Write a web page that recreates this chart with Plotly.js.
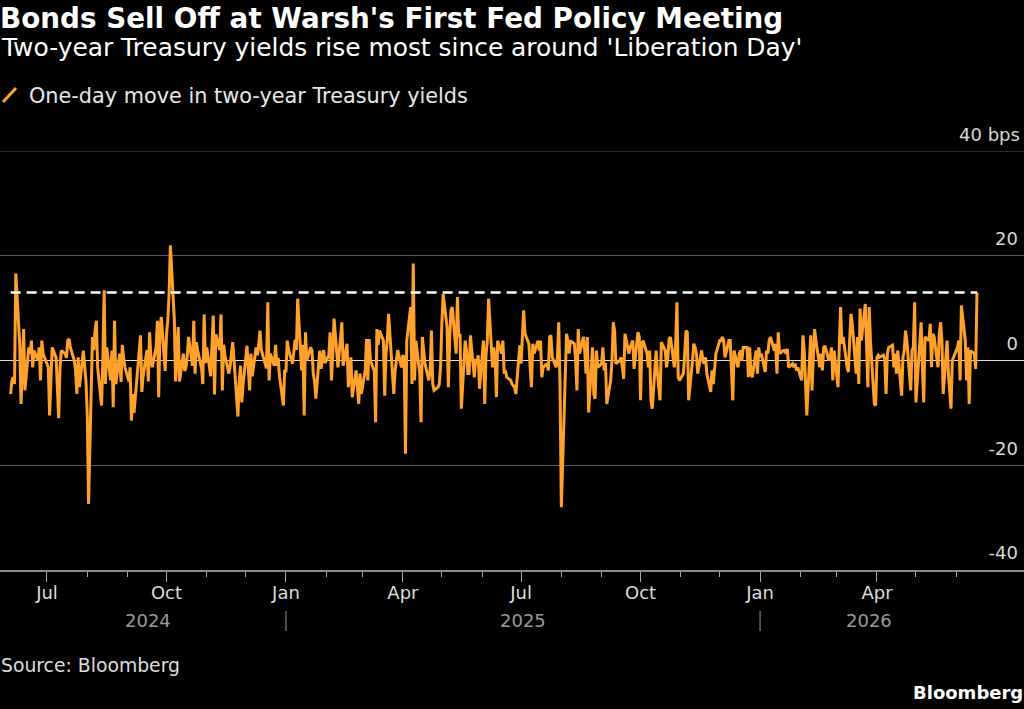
<!DOCTYPE html>
<html>
<head>
<meta charset="utf-8">
<script src="https://cdn.plot.ly/plotly-3.0.1.min.js"></script>
<style>
  html, body { margin: 0; padding: 0; background: #000; }
  #chart { width: 1024px; height: 709px; }
</style>
</head>
<body>
<div id="chart"></div>
<script>
// One-day moves in the two-year Treasury yield, basis points, one value per weekday of each month
const jun2024 = [-6.4, -3.8, -3.2, -4.5, 16.6, 3, -8.3, 0, 6, -5.7, 2.5, 1.3, 3.8, -1.3, 1.9, 0, 2.5, -3.8, 3.8, 1.3];
const jul2024 = [-0.5, -1.3, -10.5, -3, 2.5, 0.5, -4, -11, -1.5, 1.9, 1.3, 0.5, 3.8, 4.1, 2.5, 0, -2, -6.4, 0.6, -5.1, 1.9, -0.5, -4];
const aug2024 = [-10.2, -27.4, 4.5, 2, 5.7, 7.6, -1.3, -8.6, 0, 13.4, -4.5, 2.5, -3.8, 1.9, -8.9, 7.6, -4.5, 1.3, -4.1, 3, 0.6, -1.3];
const sep2024 = [-4, -1.3, -11.5, -6.4, -10, 0, 3, 4.8, -6, -3, 2, -4, 5.4, 0.6, -1.3, 2.5, 7.6, -7, 6.1, 8.3, -2];
const oct2024 = [5, 7.6, 12.7, 22, 8, -4, 1.3, 6.4, -4, 1.3, -2, -1.3, 1, 4.5, -1, 7.6, -2.5, 3.5, 1.9, -1.5, -4.5, 8.8, -0.5];
const nov2024 = [2.5, -3, 3, 8.6, -6.5, 5, 2, 8.8, -5.7, 3, 1, -2.5, -1, 2, 3.5, 0, -10.7, -4, -1, -8, -4.5];
const dec2024 = [2.8, -2, -5.7, 1.3, -3, 2.5, 1, 3, 5.7, 2, -1, -1.5, 11.1, -3.8, 1.3, -1, 3, -1, 0.5, -3, -8.6, -2];
const jan2025 = [-2, 3.8, 2, -0.6, 1.5, 4, 2, 11.8, -1.9, 3, -10.5, 5.4, 0, 2.5, 1.9, -2.5, -4, -7.3, 1.9, -1.6, 0.5, 2, -0.5];
const feb2025 = [1, 5.4, -3.8, 1, 8, -1.3, 2, 4, 7.3, -1, 3.2, -5.1, -2, 0.6, -7, -1.9, -5.1, -8.3, -2.5, -6.4];
const mar2025 = [-1.9, 4.1, -3.8, 4.1, 0, -2, -11.8, 6, 3, 5.7, 3.8, -6.7, 1.3, 4, 8.9, -2.2, -6.4, -2, 0, 2, -1.3];
const apr2025 = [1, 0.5, -17.8, 3.8, 10.2, -4.5, 18.5, -3.8, 3.8, -2.5, -11.8, 4.5, 2.5, -0.6, -3.8, -1.9, 5.7, -4.5, -5.7, -5.1, -4.5, -1.3];
const may2025 = [7, 12.7, 6.4, -5.1, 3.8, 9.6, 10.2, 1.3, 12.1, 4.5, 5.1, -9.2, 3.8, 1.9, -2.5, -2.5, 4.8, -3.2, 0.3, -0.6, 1, -5.4];
const jun2025 = [3.8, -8.3, 1, 3.8, 11.8, -1.3, 2.5, 0.6, -7, 3.8, 1.3, 3.8, -2.5, -1.9, -3.2, -3.8, -4.5, -4.8, -5.1, -6.4, 2.9];
const jul2025 = [-0.6, 5.7, 9.6, 5.1, 3.2, -1.3, -5.1, 3.2, 1.3, 3.8, 1.9, 3.8, -3.2, -1.3, -0.6, -1.9, 4.5, 4.8, 0.6, -1.3, 0.6, 7.3, -5.1];
const aug2025 = [-28, -1.3, 5.1, 3.8, 1.3, 3.8, 3.2, 0, -5.7, 6, 1.3, 4.5, 1.9, -2.5, 4.5, -9.9, 2.5, -6.4, -7.3, 1.9, -1.3];
const sep2025 = [-0.6, 2.5, -1.9, -0.5, -8.3, -3.8, 0, 7.3, 5.7, -0.6, 0, 0.6, -1.3, -3.5, 5.1, 1.3, 2.5, 3.2, 3.8, -1.6, 5.4, 4.5];
const oct2025 = [-7.6, 3.2, 3.8, 1.3, -1.3, 1.9, -7.6, -9.2, 1.9, -2.5, -4.5, -7.6, 3.5, 1.9, -1.3, 0.6, 4.1, 4.5, -1.3, 3.2, 11.1, -3.2, -3.8];
const nov2025 = [-2.5, 1.3, 5.7, 5.4, -7.6, 0, 3.2, 2.5, 1.3, -2.5, 1.9, 0, -0.6, 0.6, -2.5, -6, -1.9, -4.5, -1.3, 1.3];
const dec2025 = [3.8, 3.8, 4.5, 3.8, 0.6, 3.8, 3.8, -1.3, -7.6, 1.9, -1.3, 1.3, 1.9, 0, 2.5, 2.5, -3.2, 2.5, -2.5, -3.2, 1.9, -2.5, 2.5];
const jan2026 = [0.6, 1.3, -2.2, 1.9, 1.3, 3.8, 4.5, 1.9, 3.2, -2.5, 5.4, 1.3, 1.9, 1.9, 1.3, 2.2, -1.3, -0.6, -1.3, -0.6, -1.9, -1.3];
const feb2026 = [-3.8, 4.8, 1.9, -3.8, -10.5, 4.8, -5.7, 0.6, 6, 3.8, -1.3, 1.3, -1.9, 2.5, 2.8, 0, 0.6, 2.5, -3.8, 1.9];
const mar2026 = [-5.1, 2.8, 10.2, 3.2, 4.5, -1.3, -2.2, 3.8, 8.9, 7, -2.5, 4.5, -4.5, 9.9, 3.8, 10.8, 2.5, -5.1, 10.2, 3.8, -8.3, -8.6];
const apr2026 = [0.6, 1, 0.6, 1, 0.3, -6.4, 1.3, 2.5, 2.9, -1.3, 1.3, -2.5, 1.9, -6.7, 0.6, 1.9, 5.7, 3.8, -5.7, 1.9, 2.5, 11.1];
const may2026 = [-8, 3.2, 7.3, -1.3, -8, 4.5, 3.8, 7, -1.3, 5.1, 4.5, -1.3, 5.1, 7.3, 3.8, -6.4, 3.8, -2.5, -5.1, -9.2, 0];
const jun2026 = [1.9, 2.5, 3.8, -3.8, 10.5, 3.8, -3.8, 2.5, -8.3, 1.9, 1.3, -1.6, 13];

// Month each block of values belongs to
const monthBlocks = [
  ['2024-06', jun2024], ['2024-07', jul2024], ['2024-08', aug2024], ['2024-09', sep2024],
  ['2024-10', oct2024], ['2024-11', nov2024], ['2024-12', dec2024],
  ['2025-01', jan2025], ['2025-02', feb2025], ['2025-03', mar2025], ['2025-04', apr2025],
  ['2025-05', may2025], ['2025-06', jun2025], ['2025-07', jul2025], ['2025-08', aug2025],
  ['2025-09', sep2025], ['2025-10', oct2025], ['2025-11', nov2025], ['2025-12', dec2025],
  ['2026-01', jan2026], ['2026-02', feb2026], ['2026-03', mar2026], ['2026-04', apr2026],
  ['2026-05', may2026], ['2026-06', jun2026]
];

// Axis labels
const quarterTicks = ['2024-07-01', '2024-10-01', '2025-01-01', '2025-04-01', '2025-07-01', '2025-10-01', '2026-01-01', '2026-04-01'];
const quarterLabels = ['Jul', 'Oct', 'Jan', 'Apr', 'Jul', 'Oct', 'Jan', 'Apr'];
const monthTicks = ['2024-08-01', '2024-09-01', '2024-11-01', '2024-12-01', '2025-02-01', '2025-03-01',
  '2025-05-01', '2025-06-01', '2025-08-01', '2025-09-01', '2025-11-01', '2025-12-01',
  '2026-02-01', '2026-03-01', '2026-05-01', '2026-06-01'];
const yearStarts = ['2025-01-01', '2026-01-01'];
const yearLabels = ['2024', '2025', '2026'];
const yTicks = [-40, -20, 0, 20, 40];
const yLabels = ['-40', '-20', '0', '20', '40 bps'];

// Pair each value with the weekdays of its month, in order
function pad(n) { return (n < 10 ? '0' : '') + n; }
const dates = [], moves = [];
monthBlocks.forEach(([ym, vals]) => {
  const [y, m] = ym.split('-').map(Number);
  let d = 1, k = 0;
  while (k < vals.length) {
    const dow = new Date(Date.UTC(y, m - 1, d)).getUTCDay();
    if (dow !== 0 && dow !== 6) {
      dates.push(`${y}-${pad(m)}-${pad(d)}`);
      moves.push(vals[k]);
      k++;
    }
    d++;
  }
});

const firstDate = dates[0];
const lastDate = dates[dates.length - 1];
const lastMove = moves[moves.length - 1];

function ms(s) { return new Date(s + 'T00:00:00Z').getTime(); }
function iso(t) { return new Date(t).toISOString().slice(0, 19).replace('T', ' '); }
const spans = [[firstDate, yearStarts[0]], [yearStarts[0], yearStarts[1]], [yearStarts[1], lastDate]];
const yearCenters = spans.map(([a, b]) => iso((ms(a) + ms(b)) / 2));

// Plot area: 151px to 570px from top, full width
const PLOT_TOP = 151, PLOT_BOTTOM = 570;
function py(p) { return (PLOT_BOTTOM - p) / (PLOT_BOTTOM - PLOT_TOP); }
function px(p) { return p / 1024; }

const FONT = 'DejaVu Sans';
const ORANGE = '#ffa12b';
const GRID = '#5a5a5a';
const LABEL_LIFT = 17;   // value labels sit above their gridlines

const trace = {
  x: dates,
  y: moves,
  type: 'scatter',
  mode: 'lines',
  line: { color: ORANGE, width: 3 },
  hoverinfo: 'x+y',
  showlegend: false
};

const topIdx = yTicks.length - 1;

const annotations = [
  {
    text: "Two-year Treasury yields rise most since around 'Liberation Day'",
    xref: 'paper', yref: 'paper', x: 0, y: py(48), xanchor: 'left', yanchor: 'middle',
    showarrow: false, font: { family: FONT, size: 24.9, color: '#ffffff' }, borderpad: 0
  },
  {
    text: 'One-day move in two-year Treasury yields',
    xref: 'paper', yref: 'paper', x: px(28), y: py(96), xanchor: 'left', yanchor: 'middle',
    showarrow: false, font: { family: FONT, size: 20.8, color: '#e8e8e8' }, borderpad: 0
  },
  {
    text: 'Source: Bloomberg',
    xref: 'paper', yref: 'paper', x: 0, y: py(665), xanchor: 'left', yanchor: 'middle',
    showarrow: false, font: { family: FONT, size: 18.8, color: '#dddddd' }, borderpad: 0
  },
  {
    text: '<b>Bloomberg</b>',
    xref: 'paper', yref: 'paper', x: 1, y: py(692), xanchor: 'right', yanchor: 'middle',
    showarrow: false, font: { family: FONT, size: 18, color: '#ffffff' }, borderpad: 0
  },
  // top value label, placed above the top gridline like the others
  {
    text: yLabels[topIdx],
    xref: 'paper', yref: 'y', x: 1, y: yTicks[topIdx], xanchor: 'right', yanchor: 'middle',
    xshift: -3, yshift: LABEL_LIFT,
    showarrow: false, font: { family: FONT, size: 18, color: '#d8d8d8' }, borderpad: 0
  }
].concat(yearLabels.map((t, i) => ({
  text: t, xref: 'x', yref: 'paper', x: yearCenters[i], y: py(620), xanchor: 'center', yanchor: 'middle',
  showarrow: false, font: { family: FONT, size: 18, color: '#9a9a9a' }, borderpad: 0
})));

const shapes = [
  // top gridline (range edge)
  {
    type: 'line', xref: 'paper', yref: 'y', x0: 0, x1: 1, y0: yTicks[topIdx], y1: yTicks[topIdx],
    line: { color: GRID, width: 1 }, layer: 'below'
  },
  // last value marker line
  {
    type: 'line', xref: 'x', yref: 'y', x0: firstDate, x1: lastDate, y0: lastMove, y1: lastMove,
    line: { color: '#ffffff', width: 2.5, dash: '10px,6px' }, layer: 'above'
  },
  // legend swatch
  {
    type: 'line', xref: 'paper', yref: 'paper', x0: px(3), y0: py(102), x1: px(16), y1: py(88),
    line: { color: ORANGE, width: 3 }
  }
].concat(yearStarts.map(d => ({
  type: 'line', xref: 'x', yref: 'paper', x0: d, x1: d,
  ysizemode: 'pixel', yanchor: 0, y0: -41, y1: -61,
  line: { color: '#9a9a9a', width: 1 }
})));

const layout = {
  width: 1024,
  height: 709,
  paper_bgcolor: '#000000',
  plot_bgcolor: '#000000',
  margin: { l: 0, r: 0, t: PLOT_TOP, b: 709 - PLOT_BOTTOM, pad: 0 },
  title: {
    text: "<b>Bonds Sell Off at Warsh's First Fed Policy Meeting</b>",
    font: { family: FONT, size: 27.8, color: '#ffffff' },
    xref: 'container', yref: 'container', x: 0, xanchor: 'left',
    y: 1 - 18 / 709, yanchor: 'middle', pad: { l: 0, t: 0, r: 0, b: 0 }
  },
  xaxis: {
    type: 'date',
    range: ['2024-05-25 19:40', '2026-07-23 05:00'],
    tickmode: 'array',
    tickvals: quarterTicks,
    ticktext: quarterLabels,
    ticks: 'outside', ticklen: 10, tickwidth: 1, tickcolor: '#aaaaaa',
    ticklabelstandoff: -4,
    minor: { tickmode: 'array', tickvals: monthTicks, ticks: 'outside', ticklen: 5, tickwidth: 1, tickcolor: '#aaaaaa', showgrid: false },
    showline: true, linecolor: '#8a8a8a', linewidth: 1.5,
    showgrid: false, zeroline: false,
    tickfont: { family: FONT, size: 18, color: '#dddddd' },
    fixedrange: true
  },
  yaxis: {
    range: [-40, 40],
    side: 'right',
    tickmode: 'array',
    tickvals: yTicks.slice(0, topIdx),
    ticktext: yLabels.slice(0, topIdx),
    ticklabelposition: 'inside',
    ticklabelshift: -LABEL_LIFT,
    ticklabelstandoff: 3,
    ticks: '',
    showgrid: true, gridcolor: GRID, gridwidth: 1,
    zeroline: true, zerolinecolor: '#e0e0e0', zerolinewidth: 1.2,
    showline: false,
    tickfont: { family: FONT, size: 18, color: '#d8d8d8' },
    fixedrange: true
  },
  annotations: annotations,
  shapes: shapes,
  showlegend: false
};

Plotly.newPlot('chart', [trace], layout, { displayModeBar: false, staticPlot: true });
</script>
</body>
</html>
